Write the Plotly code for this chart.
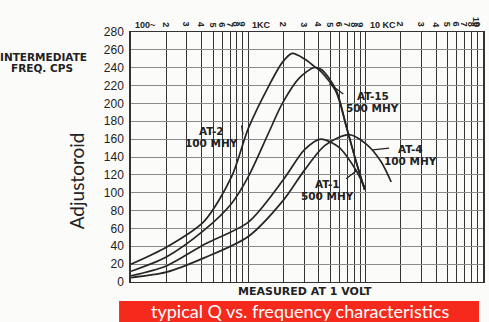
import math
import plotly.graph_objects as go

# Q of each Adjustoroid vs. intermediate frequency (cps), measured at 1 volt
at2_freq = [100, 200, 420, 720, 1000, 1500, 1950, 2360, 3000, 3600, 4150, 5600, 6800, 8200, 9800]
at2_q = [20, 39, 68, 118, 172, 220, 246, 256, 250, 242, 236, 213, 175, 137, 104]

at15_freq = [100, 200, 420, 720, 1000, 1500, 1950, 2700, 3600, 4200, 5600, 6800, 8200, 9800]
at15_q = [12, 28, 58, 88, 118, 168, 200, 228, 240, 238, 215, 176, 137, 103]

at1_freq = [100, 200, 420, 1000, 2000, 3000, 4150, 5900, 8200, 9800]
at1_q = [7, 18, 42, 67, 115, 148, 160, 151, 126, 106]

at4_freq = [100, 200, 420, 1000, 2000, 3000, 4500, 7200, 10000, 13500, 16500]
at4_q = [5, 11, 27, 51, 92, 125, 153, 165, 155, 135, 112]

q_ticks = list(range(0, 281, 20))
freq_grid = [d * 10 ** e for e in (2, 3, 4) for d in range(1, 10)] + [100000]

INK = "#222222"
LABEL_FONT = "Liberation Sans"
BOLD_FONT = "DejaVu Sans"

# plot box in pixels (used for placing paper-space text and leader lines)
W, H = 489, 322
L, R, T, B = 131, 4, 32, 40
PW, PH = W - L - R, H - T - B
X_LOG = (2, 5)
Y_RANGE = (0, 280)


def px_to_paper(px, py):
    return (px - L) / PW, (H - B - py) / PH


def data_to_px(f, q):
    fx = L + PW * (math.log10(f) - X_LOG[0]) / (X_LOG[1] - X_LOG[0])
    fy = H - B - PH * (q - Y_RANGE[0]) / (Y_RANGE[1] - Y_RANGE[0])
    return fx, fy


fig = go.Figure()
for fx, qy in [(at2_freq, at2_q), (at15_freq, at15_q), (at1_freq, at1_q), (at4_freq, at4_q)]:
    fig.add_trace(go.Scatter(
        x=fx, y=qy, mode="lines",
        line=dict(color="#262626", width=1.7, shape="spline", smoothing=0.8),
        showlegend=False, hoverinfo="skip",
    ))

annotations = []


def paper_text(txt, px, py, font, **kw):
    x, y = px_to_paper(px, py)
    d = dict(x=x, y=y, xref="paper", yref="paper", text=txt, showarrow=False,
             xanchor="center", yanchor="middle", font=font)
    d.update(kw)
    annotations.append(d)


# frequency labels along the top edge of the log paper
top_font = dict(family=LABEL_FONT, size=9, color=INK)
for txt, xv in [("<b>100~</b>", 2), ("<b>1KC</b>", 3), ("<b>10 KC</b>", 4)]:
    annotations.append(dict(x=xv, y=1, xref="x", yref="paper", text=txt,
                            showarrow=False, xanchor="left", yanchor="bottom",
                            xshift=2, yshift=0, font=top_font))
for e in (2, 3, 4):
    for d in range(2, 10):
        annotations.append(dict(x=math.log10(d * 10 ** e), y=1, xref="x", yref="paper",
                                text=f"<b>{d}</b>", textangle=90, showarrow=False,
                                xanchor="center", yanchor="bottom", yshift=3,
                                font=top_font))
annotations.append(dict(x=5, y=1, xref="x", yref="paper", text="<b>10</b>",
                        textangle=90, showarrow=False, xanchor="right",
                        yanchor="bottom", yshift=3, font=top_font))

# curve names, one line at a time
curve_font = dict(family=BOLD_FONT, size=10.5, color=INK)
for top, bottom, px, py in [
    ("AT-2", "100 MHY", 212, 131),
    ("AT-15", "500 MHY", 374, 96),
    ("AT-4", "100 MHY", 412, 149),
    ("AT-1", "500 MHY", 329, 184),
]:
    paper_text(f"<b>{top}</b>", px, py, curve_font)
    paper_text(f"<b>{bottom}</b>", px, py + 12, curve_font)

# short leader lines from the names to the curves
for f, q, tx, ty in [
    (900, 165, 242, 124),
    (4900, 222, 346, 95),
    (11500, 148, 392, 148),
    (8400, 125, 346, 180),
]:
    hx, hy = data_to_px(f, q)
    annotations.append(dict(x=math.log10(f), y=q, xref="x", yref="y", text="",
                            showarrow=True, arrowhead=0, arrowwidth=1.3,
                            arrowcolor=INK, ax=tx - hx, ay=ty - hy, standoff=0))

# side titles
side_font = dict(family=BOLD_FONT, size=10.5, color=INK)
paper_text("<b>INTERMEDIATE</b>", 43, 57, side_font)
paper_text("<b>FREQ. CPS</b>", 41, 68, side_font)
paper_text("Adjustoroid", 76, 181, dict(family="Lato", size=19, color=INK), textangle=-90)
paper_text("<b>MEASURED AT 1 VOLT</b>", 306, 291, dict(family=BOLD_FONT, size=11, color=INK))

# red caption band
paper_text("typical Q vs. frequency characteristics", 301, 311,
           dict(family="Lato", size=18, color="white"))
bx0, by0 = px_to_paper(119, 322)
bx1, by1 = px_to_paper(481, 301)
shapes = [dict(type="rect", xref="paper", yref="paper", x0=bx0, x1=bx1, y0=by0, y1=by1,
               fillcolor="#f52a1c", line=dict(width=0), layer="below")]

fig.update_layout(
    width=W, height=H,
    margin=dict(l=L, r=R, t=T, b=B),
    paper_bgcolor="#fbfbf9", plot_bgcolor="#fbfbf9",
    annotations=annotations, shapes=shapes,
    xaxis=dict(type="log", range=list(X_LOG), tickvals=freq_grid, showticklabels=False,
               ticks="", showgrid=True, gridcolor="#333333", gridwidth=1,
               showline=True, linecolor="#333333", linewidth=1, mirror=True,
               zeroline=False),
    yaxis=dict(range=list(Y_RANGE), tickvals=q_ticks, ticks="", showgrid=True,
               gridcolor="#8a8a8a", gridwidth=1, showline=True, linecolor="#333333",
               linewidth=1.5, mirror=True, zeroline=False,
               tickfont=dict(family=LABEL_FONT, size=12, color=INK),
               ticklabelstandoff=3, tickprefix="<b>", ticksuffix="</b>"),
)

fig.write_html("out.html")
